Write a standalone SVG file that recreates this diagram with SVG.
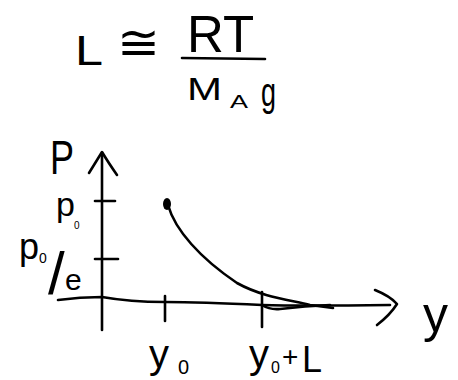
<svg xmlns="http://www.w3.org/2000/svg" width="458" height="380" viewBox="0 0 458 380">
<style>
.ln{fill:none;stroke:#000;stroke-width:2.6;stroke-linecap:round;stroke-linejoin:round}
.t{font-family:"Liberation Sans","DejaVu Sans",sans-serif;fill:#000}
</style>
<rect width="458" height="380" fill="#fff"/>
<g id="formula">
<text class="t" x="75" y="65" font-size="42" textLength="28" lengthAdjust="spacingAndGlyphs">L</text>
<text class="t" x="117" y="59" font-size="48" font-family="DejaVu Sans" textLength="43" lengthAdjust="spacingAndGlyphs">≅</text>
<text class="t" x="187" y="52" font-size="51">RT</text>
<path class="ln" d="M182 58 L265 59"/>
<text class="t" x="187" y="100" font-size="31" textLength="35" lengthAdjust="spacingAndGlyphs">M</text>
<text class="t" x="230" y="108" font-size="18" textLength="18" lengthAdjust="spacingAndGlyphs">A</text>
<text class="t" x="261" y="106" font-size="40" textLength="15" lengthAdjust="spacingAndGlyphs">g</text>
</g>
<g id="connectors">
<path id="y-axis" class="ln" d="M102 330 L102 153"/>
<path class="ln" d="M89 173 Q97 160 102 152 Q108 162 117 175"/>
<path id="x-axis" class="ln" d="M58 300 Q80 297 102 297 Q130 302 165 302 Q200 302 262 305 Q300 306 390 305"/>
<path class="ln" d="M262 305 Q270 310 280 309 Q305 306 330 305"/>
<path class="ln" d="M375 290 Q390 296 397 304 Q390 315 377 325"/>
<path id="tick-p0" class="ln" d="M95 201 L115 201"/>
<path id="tick-p0e" class="ln" d="M95 259 L118 259"/>
<path id="tick-y0" class="ln" d="M165 296 L165 321"/>
<path id="tick-y0L" class="ln" d="M262 292 L262 327"/>
<path id="curve" class="ln" d="M168 205 C175 230 200 258 237 283 C262 297 290 300 310 305 L333 308"/>
<ellipse cx="167" cy="204" rx="4" ry="6" fill="#000"/>
</g>
<g id="labels">
<text class="t" x="50" y="174" font-size="48" textLength="24" lengthAdjust="spacingAndGlyphs">P</text>
<text class="t"><tspan x="56" y="216" font-size="34">p</tspan><tspan x="74" y="229" font-size="10">0</tspan></text>
<text class="t"><tspan x="19" y="259" font-size="36">p</tspan><tspan x="39" y="263" font-size="14">0</tspan><tspan x="48" y="294" font-size="60">/</tspan><tspan x="65" y="290" font-size="30">e</tspan></text>
<text class="t" x="423" y="332" font-size="50">y</text>
<text class="t"><tspan x="149" y="368" font-size="40">y</tspan><tspan x="178" y="374" font-size="20">0</tspan></text>
<text class="t"><tspan x="249" y="368" font-size="40">y</tspan><tspan x="271" y="373" font-size="16">0</tspan><tspan x="282" y="366" font-size="28">+</tspan><tspan x="302" y="372" font-size="36">L</tspan></text>
</g>
</svg>
